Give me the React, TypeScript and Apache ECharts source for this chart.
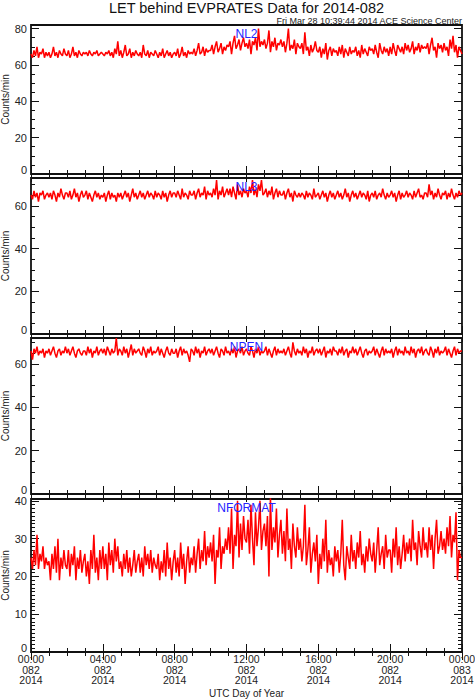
import React, { useEffect, useRef } from 'react';
import * as echarts from 'echarts';

// ---- data (5-minute samples, 00:00 day 082 -> 00:00 day 083) ----
const STEP_MINUTES = 5;

const NL2 = [
  66,64,68,65,70,64,67,66,69,64,67,65,
  67,64,66,70,65,67,64,68,66,65,69,66,
  65,68,64,66,70,65,67,64,68,66,65,67,
  66,67,65,68,66,65,67,66,68,65,66,67,
  66,65,67,66,68,65,67,64,69,66,73,65,
  68,64,67,71,65,66,69,64,67,65,68,66,
  65,67,64,71,66,65,68,64,67,66,65,68,
  66,64,67,65,69,64,66,68,65,67,64,66,
  67,65,69,64,66,70,65,67,64,68,66,67,
  66,69,65,68,72,66,67,70,65,69,67,68,
  68,71,66,70,73,67,69,72,66,70,68,71,
  70,73,66,72,76,69,71,74,68,72,75,70,
  72,69,74,66,73,71,75,68,80,70,73,71,
  74,69,72,79,67,73,70,75,68,72,71,74,
  70,73,67,72,80,68,71,69,74,66,72,70,
  69,72,66,78,68,70,65,71,67,69,73,68,
  67,70,64,69,66,72,63,68,70,65,69,67,
  68,65,70,66,71,64,69,67,65,70,66,68,
  67,70,65,68,64,71,66,69,67,65,70,68,
  69,66,71,67,64,72,68,66,70,67,69,65,
  70,66,72,68,65,71,69,67,70,66,72,68,
  71,67,69,73,66,70,68,72,67,71,69,70,
  69,72,66,71,75,68,70,64,72,69,71,67,
  72,68,70,65,74,69,76,67,71,64,70,68,
  66,
];

const NL3 = [
  65,63,67,64,66,62,66,65,67,63,65,66,
  64,66,63,67,65,62,66,64,68,65,63,66,
  66,64,67,63,65,68,64,66,62,65,67,64,
  65,67,63,66,64,62,65,67,64,66,63,65,
  64,66,62,65,67,63,66,64,65,62,66,64,
  66,63,65,67,64,66,62,65,68,64,66,63,
  65,67,64,66,63,65,67,64,66,65,63,67,
  64,66,65,63,67,64,66,62,65,67,64,66,
  66,64,67,65,63,68,64,66,65,63,67,65,
  65,67,63,66,68,64,66,65,69,63,67,65,
  66,64,68,65,72,63,67,65,69,64,66,68,
  65,68,64,69,66,63,70,65,67,64,68,66,
  67,64,69,66,72,65,68,64,70,67,72,65,
  66,68,64,67,65,69,63,66,68,64,67,65,
  65,67,63,66,68,64,66,62,67,65,64,66,
  64,66,65,63,67,64,66,65,63,68,64,65,
  66,63,65,67,64,66,62,65,67,64,66,63,
  65,67,64,66,63,65,68,64,66,62,65,67,
  64,66,63,65,67,64,66,65,63,67,62,65,
  66,64,67,63,65,66,64,68,65,63,66,64,
  65,67,64,66,62,65,67,63,66,64,65,67,
  64,66,65,63,67,64,66,68,64,65,63,66,
  66,64,70,65,67,63,66,64,68,65,63,66,
  65,67,63,66,64,68,65,63,66,64,67,65,
  66,
];

const NPEN = [
  66,62,67,65,68,64,66,65,67,63,66,65,
  67,64,66,68,65,63,66,67,64,66,65,68,
  65,67,64,66,68,65,63,66,67,65,64,66,
  66,64,68,65,67,63,66,65,68,64,66,67,
  65,67,64,68,66,64,67,65,66,72,64,67,
  66,64,68,65,67,63,66,69,64,67,65,66,
  67,65,64,68,66,63,67,65,68,64,66,65,
  66,68,64,67,65,63,66,68,65,64,67,65,
  65,67,63,66,68,64,67,65,66,64,61,67,
  66,64,68,65,67,63,66,65,68,64,66,67,
  65,67,64,66,68,65,63,67,66,64,68,65,
  66,64,67,65,68,63,66,67,65,68,64,66,
  67,65,64,68,66,63,67,65,68,64,66,65,
  66,68,64,67,65,63,66,68,64,67,65,66,
  65,67,64,66,68,65,63,70,66,64,67,65,
  66,64,68,65,67,63,66,65,68,64,66,67,
  65,67,64,66,68,63,66,65,67,64,68,66,
  66,64,67,65,68,64,66,67,63,66,65,68,
  65,67,64,66,68,65,63,66,67,64,66,65,
  66,68,64,67,65,63,66,68,64,67,65,66,
  65,67,63,66,68,64,67,65,66,64,68,65,
  66,64,68,65,67,63,66,67,65,68,64,66,
  67,65,64,68,66,63,67,65,68,64,66,65,
  66,68,64,67,65,63,66,68,64,67,65,66,
  66,
];

const NFORMAT = [
  25,22,27,23,31,22,26,24,28,22,25,23,
  24,19,26,22,28,21,30,19,25,22,27,23,
  22,27,20,26,23,28,19,25,22,27,21,24,
  26,20,24,18,27,22,31,21,25,19,27,22,
  28,22,26,19,29,23,27,21,30,24,28,22,
  24,20,26,22,27,21,25,20,23,27,21,24,
  26,21,25,20,28,23,26,22,27,21,25,23,
  22,26,19,24,21,27,20,29,22,25,19,24,
  27,21,25,20,29,22,26,18,24,28,21,25,
  23,28,21,26,30,22,27,24,32,23,28,25,
  29,24,31,18,27,25,33,22,28,26,30,27,
  33,26,38,22,31,28,40,25,34,27,36,30,
  29,35,26,39,30,23,37,28,33,40,27,32,
  34,28,36,20,41,27,33,29,38,25,31,35,
  26,32,24,38,27,30,22,34,28,25,33,27,
  30,24,28,39,23,27,33,21,26,29,24,31,
  18,26,22,30,24,35,21,27,23,25,20,28,
  24,27,21,26,35,23,19,28,25,22,31,24,
  27,22,29,25,32,23,26,21,28,24,30,26,
  24,29,21,27,33,23,26,28,22,31,25,27,
  27,21,30,25,33,23,28,22,26,31,24,29,
  26,30,24,35,27,29,23,32,28,25,33,27,
  29,25,33,27,31,22,30,35,26,28,32,27,
  30,26,33,28,36,25,31,29,37,19,27,25,
  25,
];

const PANEL_NAMES = ['NL2', 'NL3', 'NPEN', 'NFORMAT'];
const PANEL_SERIES = [NL2, NL3, NPEN, NFORMAT];
const Y_MAX = [82, 73, 72, 40.5];
const Y_MAJOR = [20, 20, 20, 10];
const Y_MINOR = [5, 5, 5, 1];
const X_MAX = 1440;
const X_MAJOR = 240;
const DAY_LABELS = ['082', '083'];
const YEAR_LABEL = '2014';
const TITLE = 'LET behind EVPRATES Data for 2014-082';
const SUBTITLE = 'Fri Mar 28 10:39:44 2014 ACE Science Center';
const Y_NAME = 'Counts/min';
const X_NAME = 'UTC Day of Year';

// ---- layout ----
const W = 475;
const H = 700;
const GRID_LEFT = 31;
const GRID_WIDTH = 431;
const GRID_TOPS = [25, 178, 338, 499];
const GRID_HEIGHTS = [149, 156, 156, 153];
const Y_NAME_X = 5;
const FONT = '"Liberation Sans", Arial, Helvetica, sans-serif';
const AXIS_TEXT = '#222';

function xLabel(v: number): string {
  const hh = Math.floor(v / 60) % 24;
  const day = v >= 1440 ? DAY_LABELS[1] : DAY_LABELS[0];
  return `${String(hh).padStart(2, '0')}:00\n${day}\n${YEAR_LABEL}`;
}

function buildOption() {
  const grid: any[] = [];
  const xAxis: any[] = [];
  const yAxis: any[] = [];
  const series: any[] = [];
  const graphic: any[] = [];

  PANEL_NAMES.forEach((name, i) => {
    grid.push({
      left: GRID_LEFT,
      top: GRID_TOPS[i],
      width: GRID_WIDTH,
      height: GRID_HEIGHTS[i],
      containLabel: false,
      outerBoundsMode: 'none',
      show: true,
      borderColor: '#111',
      borderWidth: 1.8,
      backgroundColor: 'transparent',
    });
    const last = i === PANEL_NAMES.length - 1;
    ['bottom', 'top'].forEach((pos) => {
      xAxis.push({
        type: 'value',
        gridIndex: i,
        position: pos,
        min: 0,
        max: X_MAX,
        interval: X_MAJOR,
        axisLine: { show: false },
        axisTick: { show: true, inside: true, length: 8, lineStyle: { color: '#111', width: 1 } },
        minorTick: { show: true, splitNumber: 4, length: 4, lineStyle: { color: '#111', width: 1 } },
        splitLine: { show: false },
        minorSplitLine: { show: false },
        axisLabel: {
          show: last && pos === 'bottom',
          formatter: xLabel,
          fontSize: 10.5,
          lineHeight: 10.5,
          color: AXIS_TEXT,
          fontFamily: FONT,
          margin: 2,
        },
      });
    });
    ['left', 'right'].forEach((pos) => {
      // minor ticks (+ labels on left)
      yAxis.push({
        type: 'value',
        gridIndex: i,
        position: pos,
        min: 0,
        max: Y_MAX[i],
        interval: Y_MINOR[i],
        axisLine: { show: false },
        axisTick: { show: true, inside: true, length: 4, lineStyle: { color: '#111', width: 1 } },
        splitLine: { show: false },
        axisLabel: {
          show: pos === 'left',
          formatter: (v: number) =>
            v === 0 ? '{z|0}' : v % Y_MAJOR[i] === 0 ? String(v) : '',
          fontSize: 11,
          lineHeight: 11,
          color: AXIS_TEXT,
          fontFamily: FONT,
          margin: 4,
          rich: {
            z: {
              fontSize: 11,
              lineHeight: 11,
              color: AXIS_TEXT,
              fontFamily: FONT,
              padding: [0, 0, 8, 0],
            },
          },
        },
      });
      // major ticks
      yAxis.push({
        type: 'value',
        gridIndex: i,
        position: pos,
        min: 0,
        max: Y_MAX[i],
        interval: Y_MAJOR[i],
        axisLine: { show: false },
        axisTick: { show: true, inside: true, length: 8, lineStyle: { color: '#111', width: 1 } },
        splitLine: { show: false },
        axisLabel: { show: false },
      });
    });
    series.push({
      type: 'line',
      name,
      xAxisIndex: i * 2,
      yAxisIndex: i * 4,
      data: PANEL_SERIES[i].map((v, k) => [k * STEP_MINUTES, v]),
      showSymbol: false,
      symbol: 'none',
      lineStyle: { color: '#ff0000', width: 1.5 },
      z: 3,
    });
    graphic.push({
      type: 'text',
      x: GRID_LEFT + GRID_WIDTH / 2,
      y: GRID_TOPS[i] + 9,
      z: 100,
      style: {
        text: name,
        fontSize: 12,
        fontFamily: FONT,
        fill: '#2424ff',
        textAlign: 'center',
        textVerticalAlign: 'middle',
      },
    });
    graphic.push({
      type: 'text',
      x: Y_NAME_X,
      y: GRID_TOPS[i] + GRID_HEIGHTS[i] / 2,
      rotation: Math.PI / 2,
      style: {
        text: Y_NAME,
        fontSize: 10,
        fontFamily: FONT,
        fill: AXIS_TEXT,
        textAlign: 'center',
        textVerticalAlign: 'middle',
      },
    });
  });

  graphic.push({
    type: 'text',
    x: GRID_LEFT + GRID_WIDTH / 2,
    y: 8,
    style: {
      text: TITLE,
      fontSize: 14.5,
      fontFamily: FONT,
      fill: '#111',
      textAlign: 'center',
      textVerticalAlign: 'middle',
    },
  });
  graphic.push({
    type: 'text',
    x: GRID_LEFT + GRID_WIDTH,
    y: 20.5,
    style: {
      text: SUBTITLE,
      fontSize: 9,
      fontFamily: FONT,
      fill: '#222',
      textAlign: 'right',
      textVerticalAlign: 'middle',
    },
  });
  graphic.push({
    type: 'text',
    x: GRID_LEFT + GRID_WIDTH / 2,
    y: 693,
    style: {
      text: X_NAME,
      fontSize: 10,
      fontFamily: FONT,
      fill: AXIS_TEXT,
      textAlign: 'center',
      textVerticalAlign: 'middle',
    },
  });

  return {
    animation: false,
    backgroundColor: '#ffffff',
    textStyle: { fontFamily: FONT },
    grid,
    xAxis,
    yAxis,
    series,
    graphic,
  };
}

export default function App() {
  const ref = useRef<HTMLDivElement>(null);
  useEffect(() => {
    if (!ref.current) return;
    const chart = echarts.init(ref.current, null, { renderer: 'svg' });
    chart.setOption(buildOption() as any);
    return () => chart.dispose();
  }, []);
  return (
    <div
      ref={ref}
      style={{ position: 'fixed', left: 0, top: 0, width: W, height: H, background: '#fff' }}
    />
  );
}
